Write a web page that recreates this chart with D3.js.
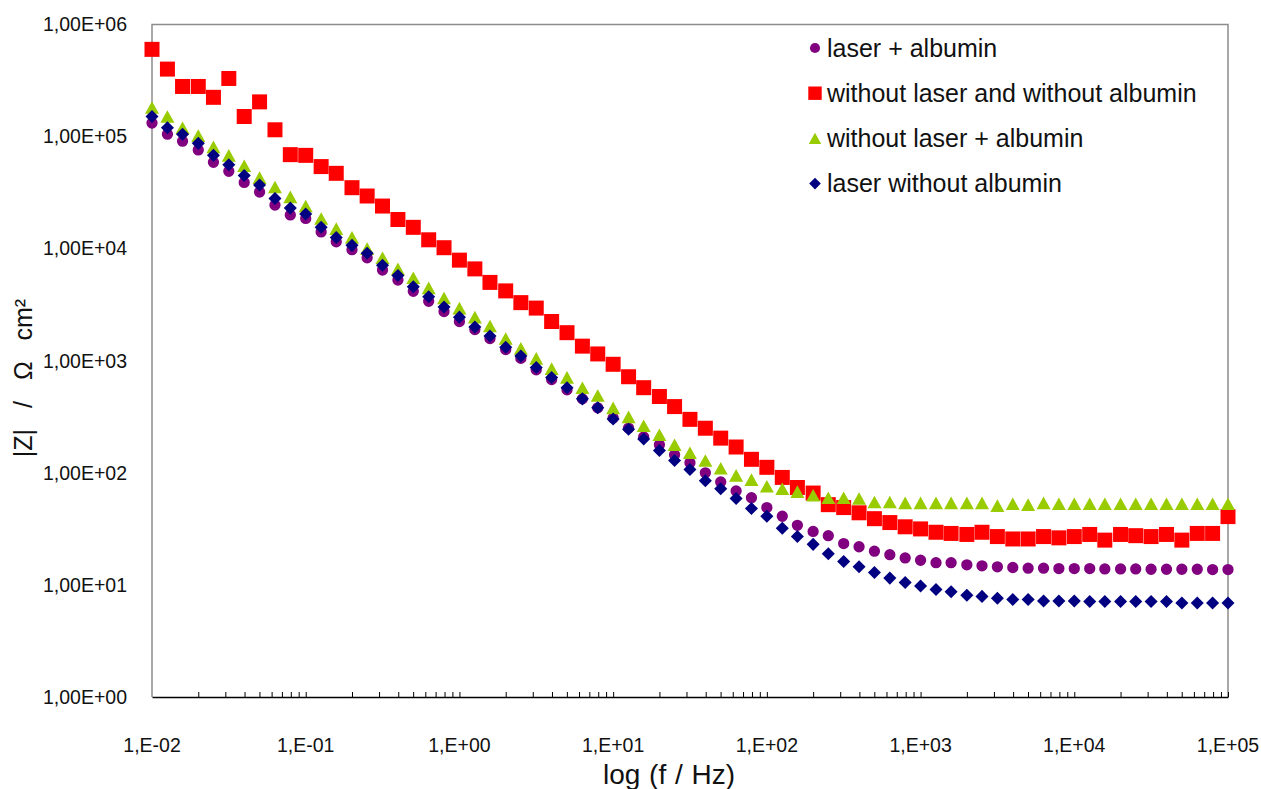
<!DOCTYPE html>
<html lang="en">
  <head>
    <meta charset="UTF-8" />
    <title>Impedance modulus vs frequency</title>
    <script src="https://d3js.org/d3.v7.min.js"></script>
    <style>
      body {
        margin: 0;
        background: #fff;
      }
      text {
        font-family: Arial, "Liberation Sans", sans-serif;
        fill: #111;
      }
    </style>
  </head>
  <body>
    <svg width="1261" height="789"></svg>
    <script>
      // Frequencies (Hz), 10 points per decade
      const freq = [
        0.01, 0.0126, 0.0158, 0.02, 0.0251, 0.0316, 0.0398, 0.0501, 0.0631, 0.0794,
        0.1, 0.126, 0.158, 0.2, 0.251, 0.316, 0.398, 0.501, 0.631, 0.794,
        1, 1.26, 1.58, 2, 2.51, 3.16, 3.98, 5.01, 6.31, 7.94,
        10, 12.6, 15.8, 20, 25.1, 31.6, 39.8, 50.1, 63.1, 79.4,
        100, 126, 158, 200, 251, 316, 398, 501, 631, 794,
        1000, 1260, 1580, 2000, 2510, 3160, 3980, 5010, 6310, 7940,
        10000, 12600, 15800, 20000, 25100, 31600, 39800, 50100, 63100, 79400,
        100000,
      ];

      // |Z| (ohm cm2) per series
      const laserAlbumin = [
        1.32e5, 1.05e5, 9.1e4, 7.6e4, 5.9e4, 4.9e4, 3.9e4, 3.2e4, 2.45e4, 2.0e4,
        1.86e4, 1.41e4, 1.15e4, 9800, 8300, 6450, 5250, 4170, 3390, 2750,
        2240, 1900, 1580, 1260, 1050, 830, 680, 550, 457, 380,
        309, 251, 209, 178, 145, 123, 100, 83, 69, 60,
        49, 41, 34, 30, 27.5, 23.4, 21.9, 20, 18.6, 17.4,
        16.6, 15.8, 15.8, 15.1, 14.8, 14.5, 14.3, 14.1, 14.1, 14.0,
        14.0, 14.0, 13.9, 13.9, 13.9, 13.8, 13.8, 13.8, 13.8, 13.7,
        13.7,
      ];
      const noLaserNoAlbumin = [
        6.0e5, 4.0e5, 2.8e5, 2.8e5, 2.24e5, 3.3e5, 1.51e5, 2.04e5, 1.15e5, 6.9e4,
        6.8e4, 5.4e4, 4.7e4, 3.5e4, 2.95e4, 2.4e4, 1.82e4, 1.55e4, 1.2e4, 1.02e4,
        7900, 6600, 5000, 4200, 3300, 2950, 2240, 1780, 1350, 1150,
        930, 720, 575, 480, 390, 300, 250, 204, 170, 132,
        112, 91, 74, 66, 52, 49, 44, 39, 36, 33,
        31.6, 29.5, 28.8, 28.2, 29.5, 27, 25.7, 25.7, 27, 26.3,
        27, 28.2, 25.1, 28.2, 27.5, 27, 28.2, 25.1, 28.8, 28.8,
        40.7,
      ];
      const noLaserAlbumin = [
        1.82e5, 1.51e5, 1.2e5, 1.02e5, 8.1e4, 6.8e4, 5.5e4, 4.3e4, 3.55e4, 2.9e4,
        2.4e4, 1.86e4, 1.51e4, 1.26e4, 1.0e4, 8300, 6600, 5500, 4470, 3630,
        2950, 2450, 2040, 1580, 1290, 1050, 850, 710, 575, 490,
        380, 316, 263, 219, 178, 151, 129, 110, 95, 87,
        76, 72, 68, 63, 60, 60, 59, 55, 55, 54,
        54, 54, 54, 54, 54, 51, 53, 52, 54, 53,
        53, 53, 53, 53, 53, 53, 53, 53, 53, 53,
        53,
      ];
      const laserNoAlbumin = [
        1.51e5, 1.2e5, 1.05e5, 8.7e4, 6.8e4, 5.6e4, 4.5e4, 3.7e4, 2.8e4, 2.3e4,
        2.04e4, 1.55e4, 1.26e4, 1.07e4, 9100, 7100, 5750, 4570, 3720, 3020,
        2450, 2000, 1660, 1320, 1100, 870, 710, 575, 457, 380,
        302, 245, 200, 158, 129, 107, 85, 72, 59, 48,
        41, 32, 27, 23, 19, 16.2, 14.5, 12.9, 11.5, 10.5,
        9.8, 9.1, 8.7, 8.1, 7.9, 7.6, 7.4, 7.4, 7.2, 7.2,
        7.2, 7.1, 7.1, 7.1, 7.1, 7.1, 7.1, 6.9, 6.9, 6.9,
        6.9,
      ];

      const seriesNames = [
        "laser + albumin",
        "without laser and without albumin",
        "without laser + albumin",
        "laser without albumin",
      ];
      const xTickLabels = ["1,E-02", "1,E-01", "1,E+00", "1,E+01", "1,E+02", "1,E+03", "1,E+04", "1,E+05"];
      const yTickLabels = ["1,00E+00", "1,00E+01", "1,00E+02", "1,00E+03", "1,00E+04", "1,00E+05", "1,00E+06"];

      // Excel-like markers, centred on their bounding box
      const triangle = {
        draw(ctx, size) {
          const w = Math.sqrt(size);
          ctx.moveTo(0, -w * 0.45);
          ctx.lineTo(w / 2, w * 0.45);
          ctx.lineTo(-w / 2, w * 0.45);
          ctx.closePath();
        },
      };
      const diamond = {
        draw(ctx, size) {
          const w = Math.sqrt(size) / 2;
          ctx.moveTo(0, -w);
          ctx.lineTo(w, 0);
          ctx.lineTo(0, w);
          ctx.lineTo(-w, 0);
          ctx.closePath();
        },
      };

      const series = [
        { name: seriesNames[0], values: laserAlbumin, color: "#800080", type: d3.symbolCircle, size: 100 },
        { name: seriesNames[1], values: noLaserNoAlbumin, color: "#ff0000", type: d3.symbolSquare, size: 225 },
        { name: seriesNames[2], values: noLaserAlbumin, color: "#99cc00", type: triangle, size: 196 },
        { name: seriesNames[3], values: laserNoAlbumin, color: "#000080", type: diamond, size: 170 },
      ];

      const margin = { top: 24.5, right: 33, bottom: 92, left: 152 };
      const width = 1261 - margin.left - margin.right;
      const height = 789 - margin.top - margin.bottom;

      const svg = d3
        .select("svg")
        .append("g")
        .attr("transform", `translate(${margin.left},${margin.top})`);

      const x = d3.scaleLog().domain([0.01, 1e5]).range([0, width]);
      const y = d3.scaleLog().domain([1, 1e6]).range([height, 0]);

      // plot frame: grey top/right/left, black bottom axis
      svg
        .append("path")
        .attr("d", `M0,${height}V0H${width}V${height}`)
        .attr("fill", "none")
        .attr("stroke", "#8c8c8c")
        .attr("stroke-width", 1.5);

      // X axis with inward minor ticks
      const minorTicks = [];
      for (let e = -2; e < 5; e++) {
        for (let k = 2; k <= 10; k++) minorTicks.push(k * Math.pow(10, e));
      }
      const xAxis = svg
        .append("g")
        .attr("transform", `translate(0,${height})`)
        .call(
          d3.axisBottom(x).tickValues(minorTicks).tickSizeInner(-5).tickSizeOuter(0).tickFormat("")
        );
      xAxis.select(".domain").attr("stroke", "#000").attr("stroke-width", 1.5);
      xAxis.selectAll(".tick line").attr("stroke", "#000");

      // X tick labels at decades
      svg
        .selectAll(".xlabel")
        .data(xTickLabels)
        .enter()
        .append("text")
        .attr("class", "xlabel")
        .attr("x", (d, i) => x(Math.pow(10, i - 2)))
        .attr("y", height + 55)
        .attr("text-anchor", "middle")
        .style("font-size", "19.5px")
        .text((d) => d);

      // Y tick labels at decades
      svg
        .selectAll(".ylabel")
        .data(yTickLabels)
        .enter()
        .append("text")
        .attr("class", "ylabel")
        .attr("x", -25)
        .attr("y", (d, i) => y(Math.pow(10, i)))
        .attr("dy", "0.35em")
        .attr("text-anchor", "end")
        .style("font-size", "19.5px")
        .text((d) => d);

      // Axis titles
      svg
        .append("text")
        .attr("x", 517)
        .attr("y", height + 87)
        .attr("text-anchor", "middle")
        .style("font-size", "28px")
        .style("word-spacing", "1px")
        .text("log (f / Hz)");

      svg
        .append("text")
        .attr("transform", "rotate(-90)")
        .attr("x", -(378 - margin.top))
        .attr("y", -120)
        .attr("text-anchor", "middle")
        .style("font-size", "25px")
        .style("word-spacing", "14px")
        .text("|Z| / Ω cm²");

      // Data markers, drawn in series order
      series.forEach((s) => {
        svg
          .append("g")
          .selectAll("path")
          .data(s.values.map((v, i) => ({ f: freq[i], z: v })))
          .enter()
          .append("path")
          .attr("transform", (d) => `translate(${x(d.f)},${y(d.z)})`)
          .attr("d", d3.symbol().type(s.type).size(s.size))
          .attr("fill", s.color);
      });

      // Legend
      const legend = svg
        .append("g")
        .attr("transform", `translate(${815 - margin.left},${48 - margin.top})`);

      const item = legend
        .selectAll(".item")
        .data(series)
        .enter()
        .append("g")
        .attr("class", "item")
        .attr("transform", (d, i) => `translate(0,${i * 45.2})`);

      item
        .append("path")
        .attr("d", (d) => d3.symbol().type(d.type).size(d.size * 0.8)())
        .attr("fill", (d) => d.color);

      item
        .append("text")
        .attr("x", 12)
        .attr("dy", "0.35em")
        .style("font-size", "25px")
        .text((d) => d.name);
    </script>
  </body>
</html>
